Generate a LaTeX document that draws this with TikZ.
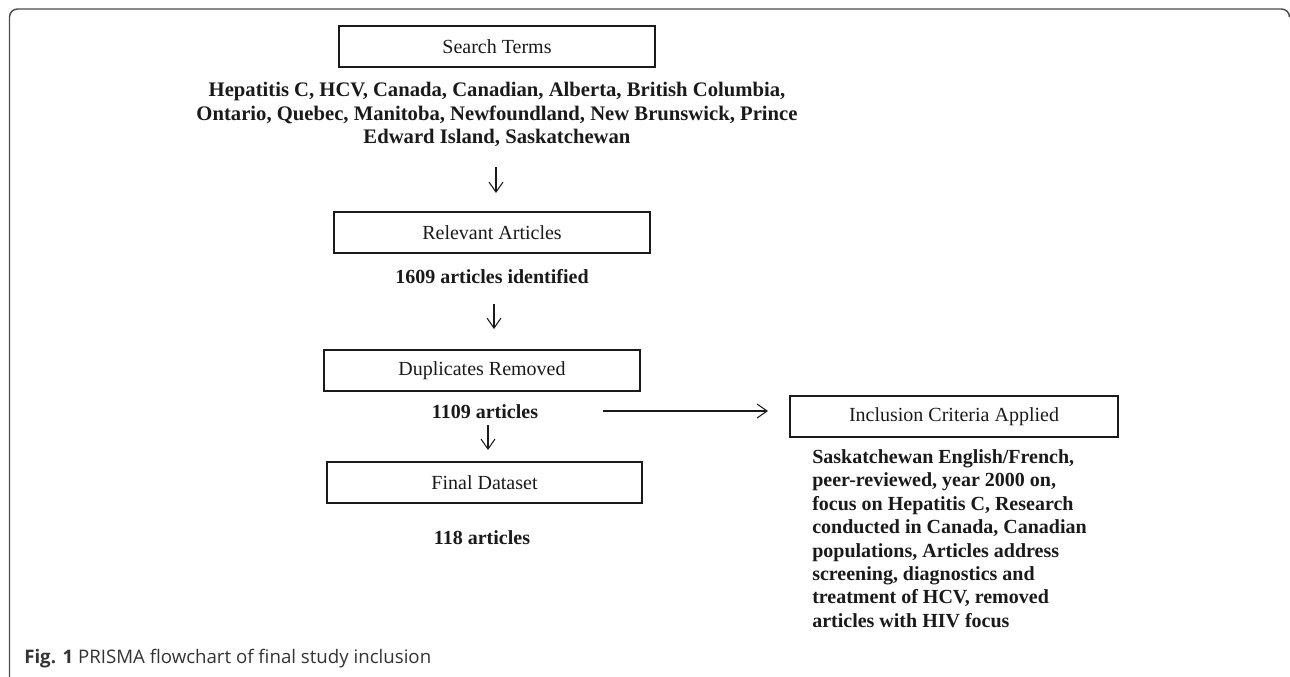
\documentclass[tikz,border=0pt]{standalone}
\usepackage{fontspec}
\setmainfont{Liberation Serif}
\newfontfamily\capfont{Open Sans}
\usetikzlibrary{arrows.meta}
\definecolor{ink}{HTML}{1A1A1A}
\definecolor{capgray}{HTML}{333333}
\tikzset{
  box/.style={draw=ink, line width=1pt, inner sep=0pt, minimum height=30.75pt,
    font=\fontsize{15}{17.4}\selectfont, text=ink},
  bodytext/.style={inner sep=0pt, font=\fontsize{15}{17.6}\selectfont\bfseries, text=ink},
  arr/.style={draw=ink, line width=0.8pt, -{Straight Barb[length=7.5pt,width=10.5pt]}},
  frame/.style={draw=black!70, line width=1.1pt, rounded corners=6pt}
}
\begin{document}
\begin{tikzpicture}[x=0.75pt, y=-0.75pt]
\useasboundingbox (0,0) rectangle (1290,676);
% outer frame (top and left edges visible)
\draw[frame] (9.5,680) -- (9.5,9) -- (1289.5,9) -- (1289.5,16);

% boxes
\node[box, minimum width=237pt] (st) at (497,46.5) {Search Terms};
\node[box, minimum width=237pt] (ra) at (492,232.5) {Relevant Articles};
\node[box, minimum width=237pt] (dr) at (482,370.5) {Duplicates Removed};
\node[box, minimum width=236.25pt] (fd) at (484.5,482.5) {Final Dataset};
\node[box, minimum width=246pt] (ic) at (954,416.5) {Inclusion Criteria Applied};

% texts under boxes
\node[bodytext, align=center, font=\fontsize{15.5}{17.6}\selectfont\bfseries] (stt) at (497,114.5) {Hepatitis C, HCV, Canada, Canadian, Alberta, British Columbia,\\Ontario, Quebec, Manitoba, Newfoundland, New Brunswick, Prince\\Edward Island, Saskatchewan};
\node[bodytext] (rat) at (492,277) {1609 articles identified};
\node[bodytext] (drt) at (485,412) {1109 articles};
\node[bodytext] (fdt) at (482,538) {118 articles};
\node[bodytext, align=left, anchor=north west] (ict) at (812,449) {Saskatchewan English/French,\\peer-reviewed, year 2000 on,\\focus on Hepatitis C, Research\\conducted in Canada, Canadian\\populations, Articles address\\screening, diagnostics and\\treatment of HCV, removed\\articles with HIV focus};

% arrow end points
\coordinate (a1s) at (496,167);
\coordinate (a1e) at (496,193);
\coordinate (a2s) at (494,304);
\coordinate (a2e) at (494,329);
\coordinate (a3s) at (488,425);
\coordinate (a3e) at (488,450);
\coordinate (a4s) at (603,411);
\coordinate (a4e) at (768,411);

\draw[arr] (a1s) -- (a1e);
\draw[arr] (a2s) -- (a2e);
\draw[arr] (a3s) -- (a3e);
\draw[arr] (a4s) -- (a4e);

% caption
\node[anchor=west, inner sep=0pt, text=capgray, font=\capfont\fontsize{14}{16}\selectfont] (cap) at (24,659) {\textbf{Fig. 1} PRISMA flowchart of final study inclusion};
\end{tikzpicture}
\end{document}
